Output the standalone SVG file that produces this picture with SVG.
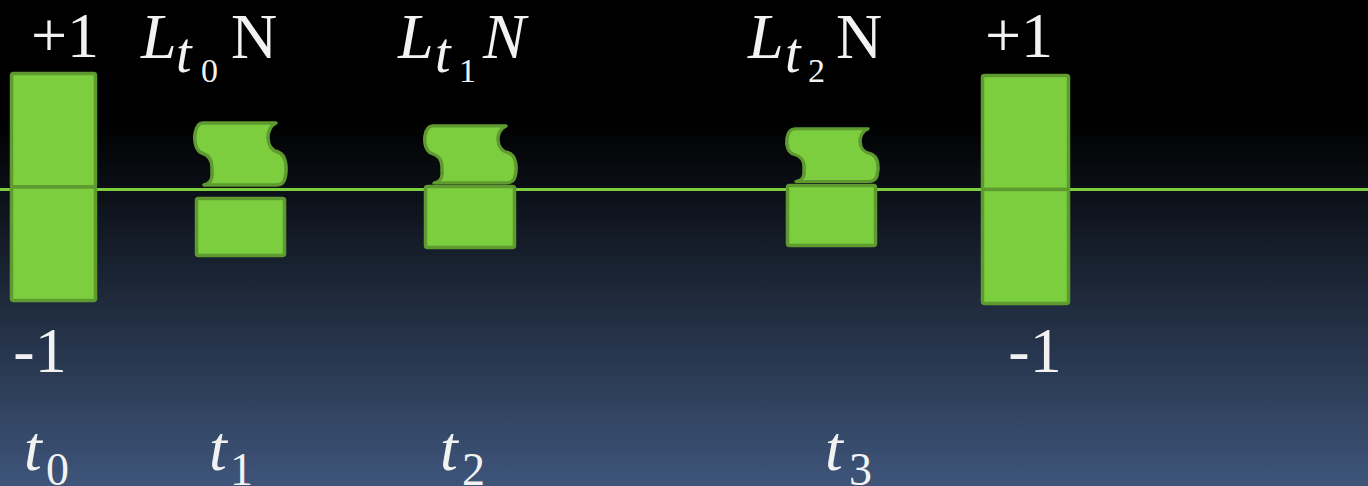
<svg xmlns="http://www.w3.org/2000/svg" width="1368" height="486" viewBox="0 0 1368 486">
<defs>
<linearGradient id="bg" x1="0" y1="0" x2="0" y2="1">
<stop offset="0" stop-color="#000000"/>
<stop offset="0.25" stop-color="#000000"/>
<stop offset="1" stop-color="#3e557a"/>
</linearGradient>
<path id="wave" d="M 9,1 L 82,1 C 71,6 71,27 84,30 C 93,33 93,48 91,56 C 90,61 87,63 82,63 L 10,63 C 15,62 19,58 18,50 L 18,45 C 18,37 14,33 8,31 C 2,29 0,20 1,12 C 2,5 5,1 9,1 Z"/>
</defs>
<style>
.blk{fill:#7dce3e;stroke:#5e9a30;stroke-width:3.5;stroke-linejoin:round}
.wv{fill:#7dce3e;stroke:#5e9a30;stroke-width:3.5;stroke-linejoin:round;vector-effect:non-scaling-stroke}
.axis{stroke:#7dce3e;stroke-width:3}
.num{font-family:"Liberation Serif",serif;font-size:64px;fill:#f2f2f2}
.it{font-style:italic}
.sub{font-size:56px}
.ss{font-size:34px;font-style:normal}
.tsub{font-size:46px;font-style:normal}
</style>
<rect x="0" y="0" width="1368" height="486" fill="url(#bg)"/>
<g id="connectors">
<line class="axis" x1="0" y1="189.5" x2="1368" y2="189.5"/>
</g>
<g id="bar-t0">
<rect class="blk" x="11.5" y="73.5" width="84" height="113.5" rx="2"/>
<rect class="blk" x="11.5" y="187" width="84" height="113.5" rx="2"/>
<text class="num" x="65" y="57" text-anchor="middle">+1</text>
<text class="num" x="40" y="372" text-anchor="middle">-1</text>
</g>
<g id="node-t1">
<use href="#wave" class="wv" transform="translate(194,122) scale(1,1.0)"/>
<rect class="blk" x="196.5" y="198.5" width="88" height="57" rx="2"/>
<text class="num"><tspan class="it" x="141" y="58">L</tspan><tspan class="it sub" x="176" y="72">t</tspan><tspan class="ss" x="201" y="82">0</tspan><tspan x="231" y="58">N</tspan></text>
</g>
<g id="node-t2">
<use href="#wave" class="wv" transform="translate(424,125) scale(1,0.92)"/>
<rect class="blk" x="425.5" y="186.5" width="89" height="61" rx="2"/>
<text class="num"><tspan class="it" x="398" y="58">L</tspan><tspan class="it sub" x="435" y="72">t</tspan><tspan class="ss" x="459" y="82">1</tspan><tspan class="it" x="483" y="58">N</tspan></text>
</g>
<g id="node-t3">
<use href="#wave" class="wv" transform="translate(786,128) scale(1,0.85)"/>
<rect class="blk" x="787.5" y="185.5" width="88" height="60" rx="2"/>
<text class="num"><tspan class="it" x="748" y="58">L</tspan><tspan class="it sub" x="785" y="72">t</tspan><tspan class="ss" x="808" y="82">2</tspan><tspan x="836" y="58">N</tspan></text>
</g>
<g id="bar-t3">
<rect class="blk" x="982.5" y="75.5" width="86" height="114" rx="2"/>
<rect class="blk" x="982.5" y="189.5" width="86" height="114" rx="2"/>
<text class="num" x="1019" y="57" text-anchor="middle">+1</text>
<text class="num" x="1035" y="372" text-anchor="middle">-1</text>
</g>
<g id="time-labels">
<text class="num it"><tspan x="24" y="470">t</tspan><tspan class="tsub" x="46" y="485">0</tspan></text>
<text class="num it"><tspan x="209" y="470">t</tspan><tspan class="tsub" x="230" y="485">1</tspan></text>
<text class="num it"><tspan x="440" y="470">t</tspan><tspan class="tsub" x="462" y="485">2</tspan></text>
<text class="num it"><tspan x="825" y="470">t</tspan><tspan class="tsub" x="849" y="485">3</tspan></text>
</g>
</svg>
